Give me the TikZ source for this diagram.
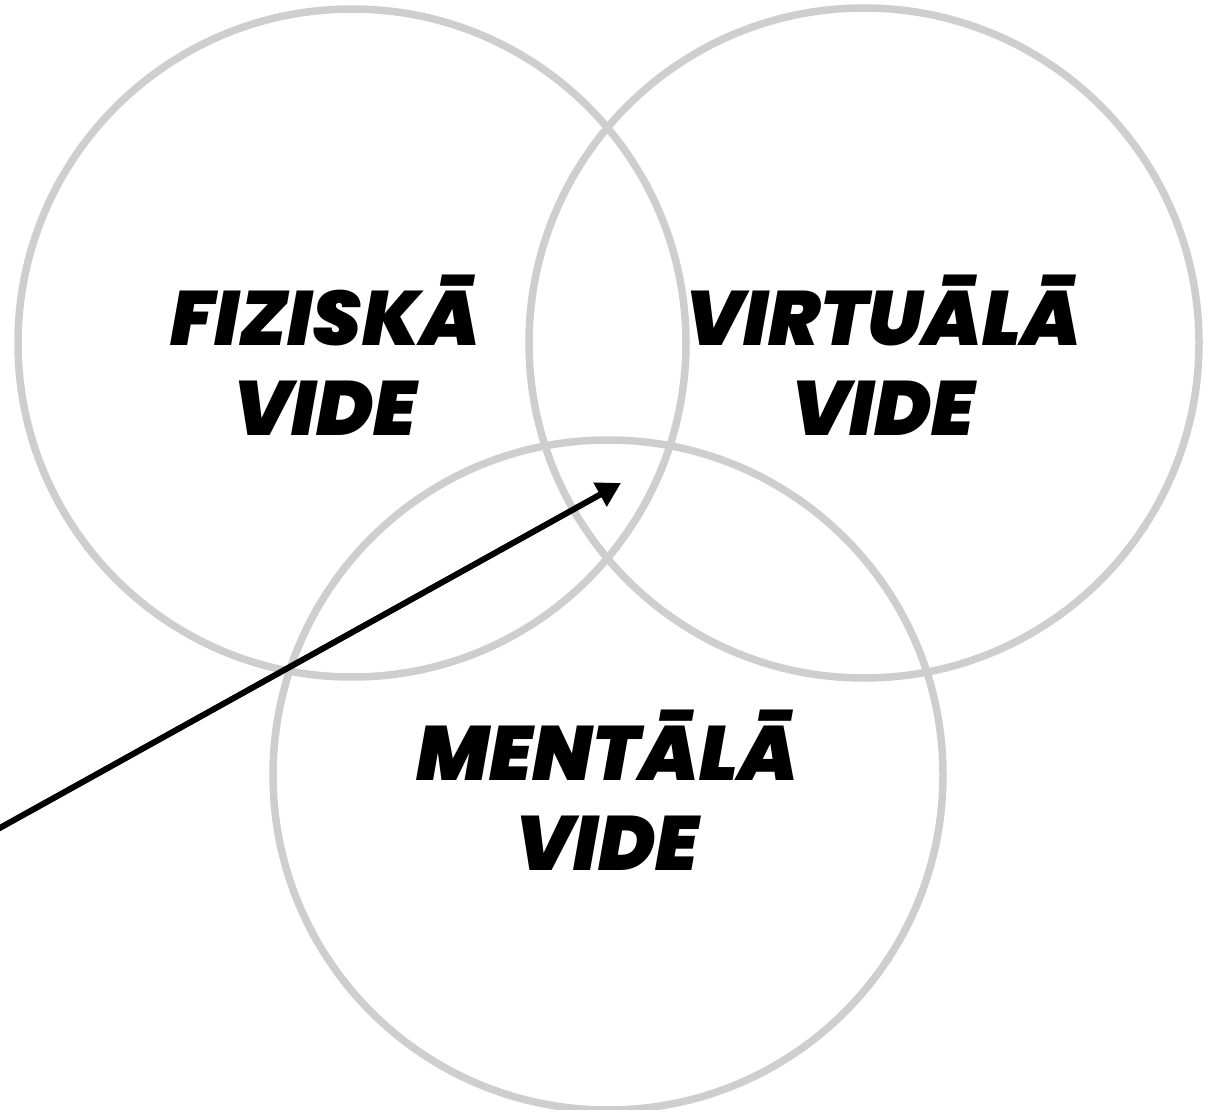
\documentclass[tikz,border=0pt]{standalone}
\usepackage{fontspec}
\newfontfamily\heavy{Poppins Black Italic}
\usetikzlibrary{arrows.meta}
\definecolor{ring}{RGB}{206,206,206}
\tikzset{
  ring/.style={draw=ring, line width=7.5pt},
  label/.style={font=\heavy\fontsize{77}{90}\selectfont, align=center, inner sep=0pt, text=black},
  pointer/.style={draw=black, line width=6pt, -{Triangle[length=24pt,width=26pt]}}
}
\begin{document}
\begin{tikzpicture}[x=1pt,y=-1pt]
\useasboundingbox (0,0) rectangle (1205,1110);
\fill[white] (0,0) rectangle (1205,1110);
\draw[ring] (352,343) circle[radius=334pt];
\draw[ring] (864,343) circle[radius=335pt];
\draw[ring] (608,775) circle[radius=335pt];
\node[label] (fiz) at (325,355) {FIZISKĀ\\VIDE};
\node[label] (vir) at (883,355) {VIRTUĀLĀ\\VIDE};
\node[label] (men) at (607,790) {MENTĀLĀ\\VIDE};
\coordinate (start) at (-2,829);
\coordinate (tip) at (621,483);
\draw[pointer] (start) -- (tip);
\end{tikzpicture}
\end{document}
